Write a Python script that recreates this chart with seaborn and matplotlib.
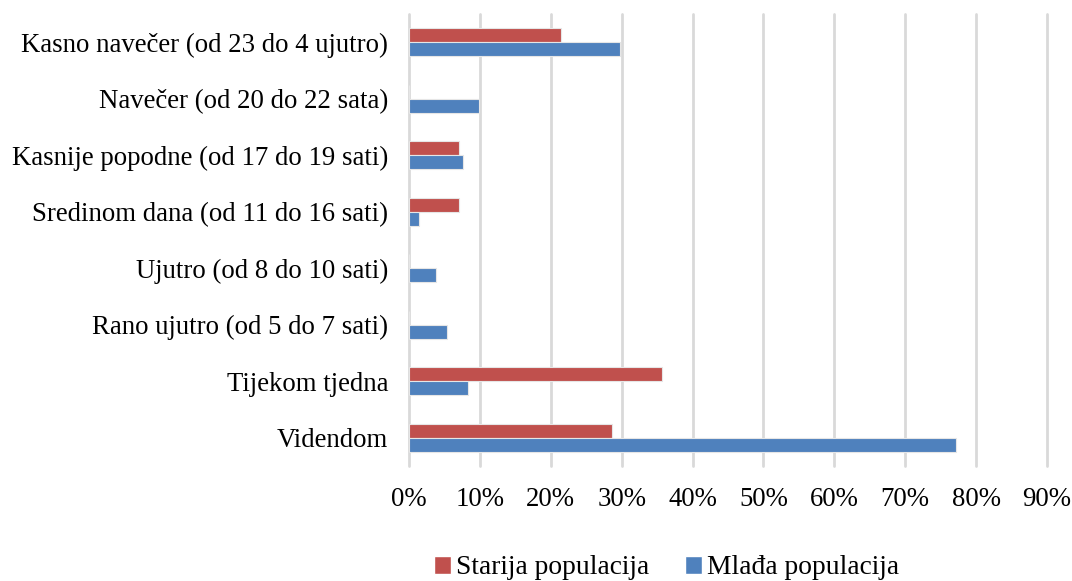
import matplotlib
matplotlib.use("Agg")
import matplotlib.pyplot as plt
import seaborn as sns
import pandas as pd
from matplotlib.ticker import PercentFormatter
from matplotlib.patches import Patch

categories = [
    "Kasno navečer (od 23 do 4 ujutro)",
    "Navečer (od 20 do 22 sata)",
    "Kasnije popodne (od 17 do 19 sati)",
    "Sredinom dana (od 11 do 16 sati)",
    "Ujutro (od 8 do 10 sati)",
    "Rano ujutro (od 5 do 7 sati)",
    "Tijekom tjedna",
    "Videndom",
]
series_names = ["Starija populacija", "Mlađa populacija"]
starija = [21.4, 0.0, 7.1, 7.1, 0.0, 0.0, 35.7, 28.6]
mlada = [29.7, 9.9, 7.6, 1.45, 3.8, 5.3, 8.35, 77.1]
colors = ["#C0504D", "#4F81BD"]

rows = []
for c, s, m in zip(categories, starija, mlada):
    rows.append({"cat": c, "serija": series_names[0], "val": s / 100})
    rows.append({"cat": c, "serija": series_names[1], "val": m / 100})
df = pd.DataFrame(rows)

sns.set_theme(style="white")
plt.rcParams["font.family"] = ["Liberation Serif", "DejaVu Serif"]
plt.rcParams["text.color"] = "black"

fig = plt.figure(figsize=(10.72, 5.81), dpi=100)
ax = fig.add_axes([409 / 1072, 1 - 466 / 581, (1047 - 409) / 1072, (466 - 14) / 581])

sns.barplot(data=df, y="cat", x="val", hue="serija", order=categories,
            hue_order=series_names, palette=colors, orient="h", width=0.5,
            ax=ax, legend=False, saturation=1, linewidth=0.8, edgecolor="#E6E6E6")

ax.set_xlim(0, 0.9)
ax.set_ylim(7.5, -0.5)
ax.set_xticks([i / 10 for i in range(10)])
ax.xaxis.set_major_formatter(PercentFormatter(xmax=1, decimals=0))
ax.grid(axis="x", color="#D9D9D9", linewidth=2)
ax.grid(axis="y", visible=False)
ax.set_axisbelow(True)
for gl in ax.get_xgridlines():
    gl.set_clip_on(False)
for sp in ax.spines.values():
    sp.set_visible(False)
ax.set_xlabel("")
ax.set_ylabel("")
ax.tick_params(axis="both", length=0, labelsize=19.3, colors="#000000")
ax.tick_params(axis="x", pad=15)
ax.tick_params(axis="y", pad=15)

handles = [Patch(facecolor=colors[0], label=series_names[0]),
           Patch(facecolor=colors[1], label=series_names[1])]
leg = fig.legend(handles=handles, loc="center", bbox_to_anchor=(0.622, 1 - 568 / 581),
                 ncol=2, frameon=False, fontsize=19.8, handlelength=0.6, handleheight=0.6,
                 handletextpad=0.2, columnspacing=1.3)
for t in leg.get_texts():
    t.set_color("black")

fig.savefig("out.png", dpi=100)
